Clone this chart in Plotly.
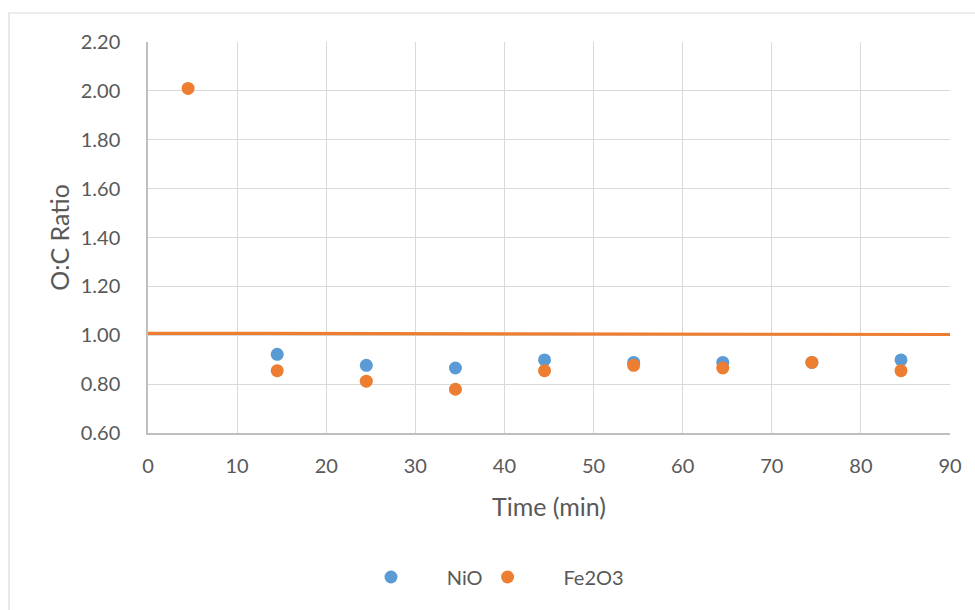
import plotly.graph_objects as go

# Data
time_nio = [14.5, 24.5, 34.5, 44.5, 54.5, 64.5, 74.5, 84.5]
ratio_nio = [0.922, 0.877, 0.866, 0.899, 0.889, 0.889, 0.889, 0.899]

time_fe = [4.5, 14.5, 24.5, 34.5, 44.5, 54.5, 64.5, 74.5, 84.5]
ratio_fe = [2.01, 0.855, 0.812, 0.779, 0.855, 0.877, 0.866, 0.889, 0.855]

trend_x = [0, 90]
trend_y = [1.008, 1.003]

x_ticks = [0, 10, 20, 30, 40, 50, 60, 70, 80, 90]
y_ticks = [0.6, 0.8, 1.0, 1.2, 1.4, 1.6, 1.8, 2.0, 2.2]

BLUE = "#5B9BD5"
ORANGE = "#ED7D31"
TEXT = "#595959"
GRID = "#D9D9D9"
AXIS = "#BFBFBF"
FONT = "Lato"

fig = go.Figure()

fig.add_trace(go.Scatter(
    x=trend_x, y=trend_y, mode="lines",
    line=dict(color=ORANGE, width=3.2),
    showlegend=False, hoverinfo="skip"))

fig.add_trace(go.Scatter(
    x=time_nio, y=ratio_nio, mode="markers", name="\u00a0" * 7 + "NiO",
    marker=dict(color=BLUE, size=13)))

fig.add_trace(go.Scatter(
    x=time_fe, y=ratio_fe, mode="markers", name="\u00a0" * 7 + "Fe2O3",
    marker=dict(color=ORANGE, size=13)))

L, R, T, B = 148, 25, 42, 177
W, H = 975, 610
pw, ph = W - L - R, H - T - B

fig.update_layout(
    width=W, height=H,
    margin=dict(l=L, r=R, t=T, b=B, autoexpand=False),
    paper_bgcolor="white", plot_bgcolor="white",
    font=dict(family=FONT, color=TEXT, size=20),
    showlegend=True,
    legend=dict(orientation="h", x=(500 - L) / pw, xanchor="center",
                y=(T + ph + 0 - 577) / ph, yanchor="middle",
                font=dict(size=20, color=TEXT), itemwidth=30,
                bgcolor="rgba(0,0,0,0)"),
    xaxis=dict(
        range=[0, 90], tickvals=x_ticks, ticktext=[str(v) for v in x_ticks],
        showgrid=True, gridcolor=GRID, gridwidth=1.3,
        showline=True, linecolor=AXIS, linewidth=1.5,
        zeroline=False, ticks="", ticklabelstandoff=14,
        tickfont=dict(size=20, color=TEXT),
        title=dict(text="Time (min)", font=dict(size=25, color=TEXT), standoff=23),
    ),
    yaxis=dict(
        range=[0.6, 2.2], tickvals=y_ticks, ticktext=[f"{v:.2f}" for v in y_ticks],
        showgrid=True, gridcolor=GRID, gridwidth=1.3,
        showline=True, linecolor=AXIS, linewidth=1.5,
        zeroline=False, ticks="", ticklabelstandoff=22,
        tickfont=dict(size=20, color=TEXT),
        title=dict(text="O:C Ratio", font=dict(size=25, color=TEXT), standoff=4),
    ),
    shapes=[dict(
        type="rect", xref="paper", yref="paper",
        x0=(9 - L) / pw, x1=(990 - L) / pw,
        y0=(T + ph - 625) / ph, y1=(T + ph - 13) / ph,
        line=dict(color=GRID, width=1.2), fillcolor="rgba(0,0,0,0)", layer="below")],
)

fig.write_html("out.html")
